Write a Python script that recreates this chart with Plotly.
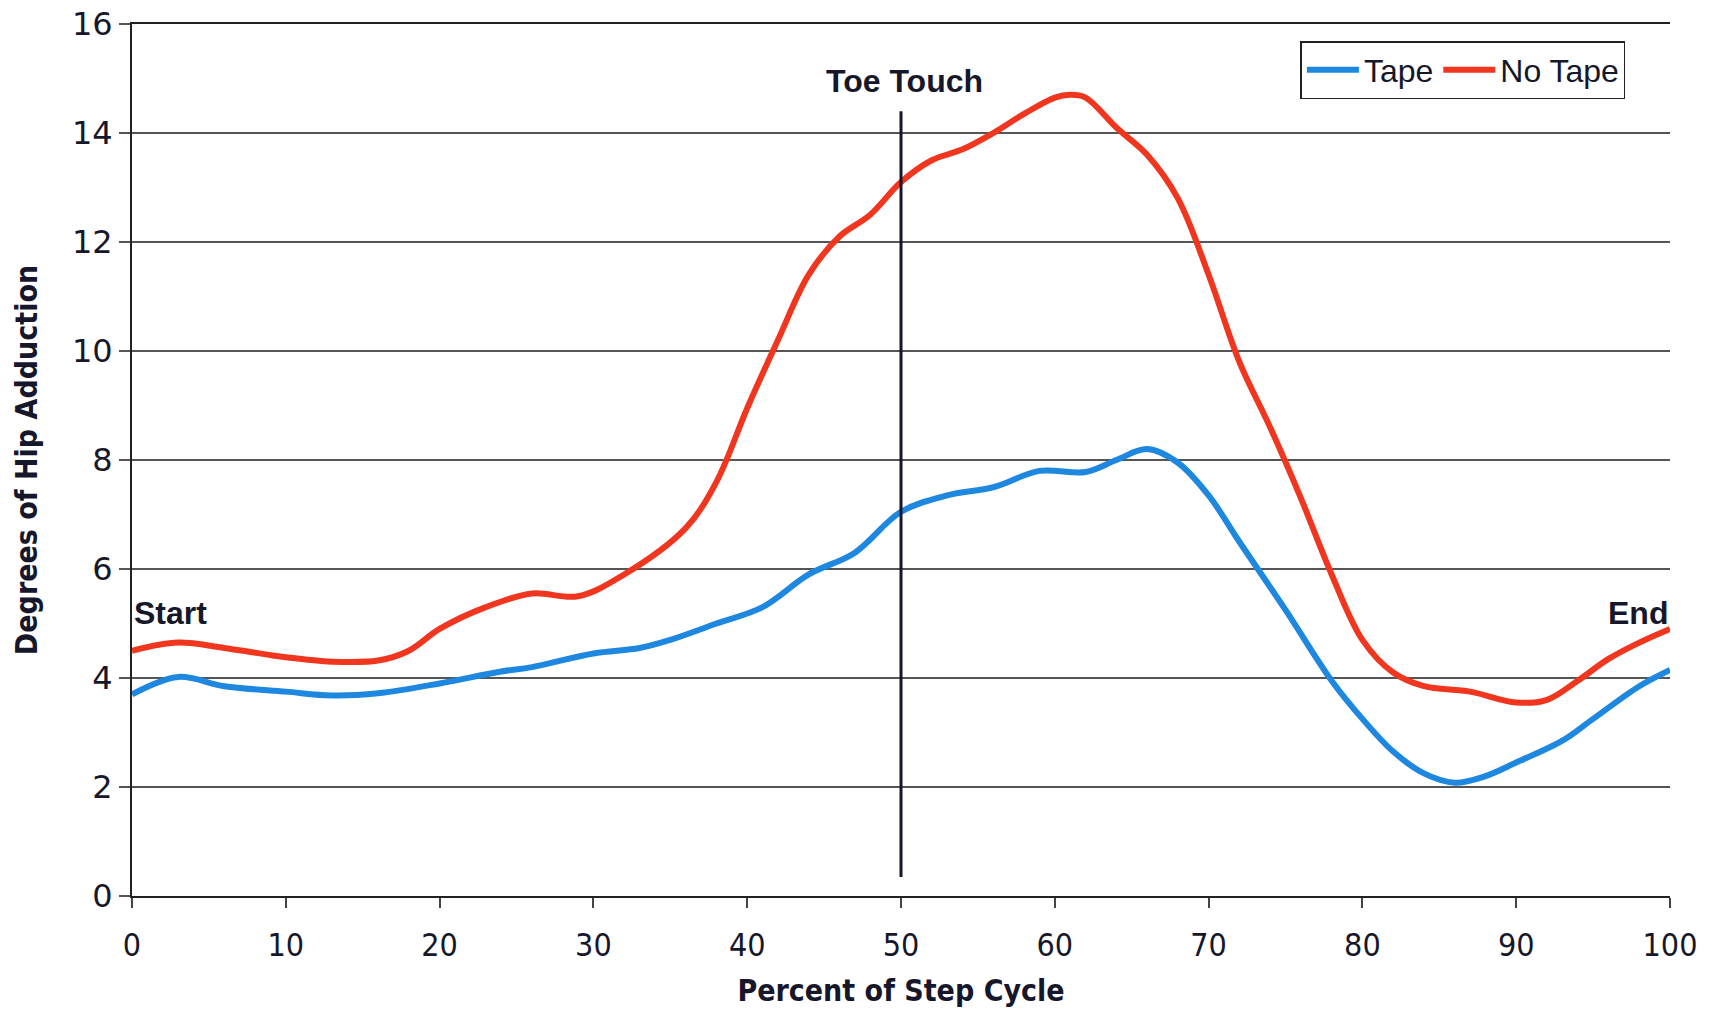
import plotly.graph_objects as go

# Data
pct_tape = [0, 3, 6, 10, 13, 16, 20, 24, 26, 30, 33, 35, 38, 41, 44, 47, 50, 53, 56, 59, 62, 64, 66, 68, 70, 72, 75, 78, 80, 82, 84, 86, 88, 90, 93, 95, 98, 100]
tape = [3.7, 4.02, 3.85, 3.75, 3.68, 3.72, 3.9, 4.12, 4.2, 4.45, 4.55, 4.7, 5.0, 5.3, 5.9, 6.3, 7.05, 7.35, 7.5, 7.8, 7.78, 8.0, 8.2, 7.95, 7.35, 6.5, 5.25, 3.95, 3.25, 2.65, 2.25, 2.08, 2.2, 2.45, 2.85, 3.25, 3.85, 4.15]

pct_notape = [0, 3, 6, 10, 13, 16, 18, 20, 23, 26, 29, 32, 36, 38, 40, 42, 44, 46, 48, 50, 52, 54, 56, 58, 60, 61, 62, 64, 66, 68, 70, 72, 74, 76, 78, 80, 82, 84, 87, 90, 92, 94, 96, 98, 100]
no_tape = [4.5, 4.65, 4.55, 4.38, 4.3, 4.32, 4.5, 4.9, 5.3, 5.55, 5.5, 5.9, 6.75, 7.6, 8.95, 10.2, 11.4, 12.1, 12.5, 13.1, 13.5, 13.7, 14.0, 14.35, 14.65, 14.7, 14.65, 14.1, 13.6, 12.8, 11.4, 9.8, 8.6, 7.3, 5.9, 4.7, 4.1, 3.85, 3.75, 3.55, 3.6, 3.95, 4.35, 4.65, 4.9]

toe_touch_x = [50, 50]
toe_touch_y = [0.35, 14.4]

x_ticks = [0, 10, 20, 30, 40, 50, 60, 70, 80, 90, 100]
y_ticks = [0, 2, 4, 6, 8, 10, 12, 14, 16]

INK = "#17172B"
NARROW = "Liberation Sans Narrow, DejaVu Sans Condensed, Arial Narrow"

fig = go.Figure()
fig.add_trace(go.Scatter(x=pct_tape, y=tape, mode="lines", name="Tape",
                         line=dict(color="#1E88E0", width=6, shape="spline", smoothing=1.0)))
fig.add_trace(go.Scatter(x=pct_notape, y=no_tape, mode="lines", name="No Tape",
                         line=dict(color="#F0361E", width=6, shape="spline", smoothing=1.0)))
fig.add_trace(go.Scatter(x=toe_touch_x, y=toe_touch_y, mode="lines", showlegend=False,
                         line=dict(color=INK, width=3), hoverinfo="skip"))

fig.add_annotation(x=50.2, y=14.95, text="<b>Toe Touch</b>", showarrow=False,
                   font=dict(family="Liberation Sans, Arial", size=32, color=INK))
fig.add_annotation(x=0, y=5.2, text="<b>Start</b>", showarrow=False, xanchor="left",
                   font=dict(family="Liberation Sans, Arial", size=32, color=INK))
fig.add_annotation(x=100, y=5.2, text="<b>End</b>", showarrow=False, xanchor="right",
                   font=dict(family="Liberation Sans, Arial", size=32, color=INK))

fig.update_layout(
    width=1709, height=1009,
    paper_bgcolor="white", plot_bgcolor="white",
    margin=dict(l=132, r=39, t=24, b=113),
    font=dict(family="Liberation Sans, Arial", color=INK),
    legend=dict(orientation="h", x=0.971, xanchor="right", y=0.9805, yanchor="top",
                bordercolor="#222", borderwidth=1.5, bgcolor="white",
                font=dict(size=32, family="Liberation Sans, Arial", color=INK),
                itemwidth=52, tracegroupgap=0),
    xaxis=dict(range=[0, 100], tickvals=x_ticks, ticktext=[str(v) for v in x_ticks],
               automargin=False, ticklabeloverflow="allow",
               showgrid=False, zeroline=False, showline=True, linecolor="#222", linewidth=2,
               mirror=True, ticks="outside", ticklen=10, tickcolor="#444", tickwidth=1.5,
               ticklabelstandoff=10,
               tickfont=dict(size=32, family=NARROW),
               title=dict(text="<b>Percent of Step Cycle</b>", standoff=17,
                          font=dict(size=30, family=NARROW))),
    yaxis=dict(range=[0, 16], tickvals=y_ticks, ticktext=[str(v) for v in y_ticks],
               automargin=False, ticklabeloverflow="allow",
               showgrid=True, gridcolor="#555", gridwidth=1.5, zeroline=False,
               showline=True, linecolor="#222", linewidth=2,
               ticks="outside", ticklen=11, tickcolor="#555", tickwidth=1.5,
               tickfont=dict(size=32, family="DejaVu Sans"),
               title=dict(text="<b>Degrees of Hip Adduction</b>", standoff=25,
                          font=dict(size=30, family=NARROW))),
)

fig.write_html("out.html", config={"displayModeBar": False},
               post_script="document.body.style.margin='0';document.body.style.overflow='hidden';")
